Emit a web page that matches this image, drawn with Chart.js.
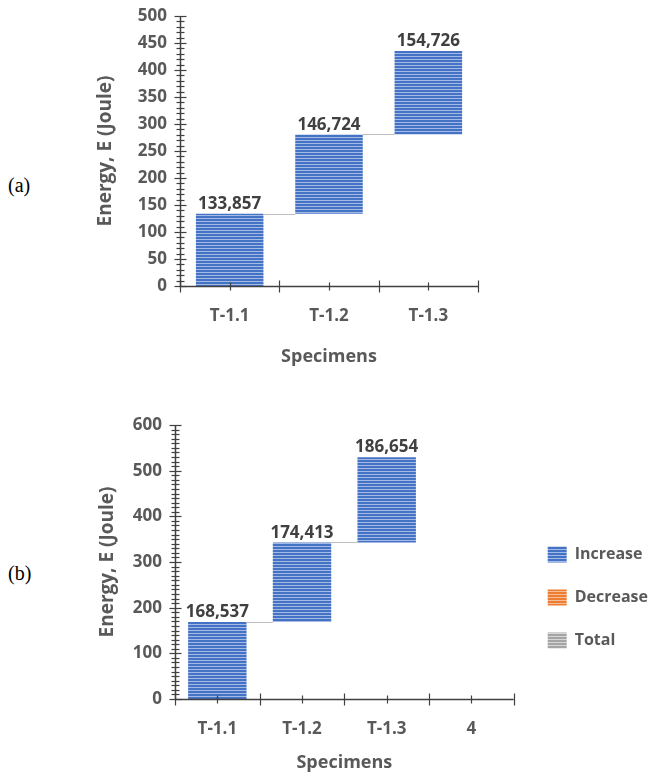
<!DOCTYPE html>
<html>
<head>
<meta charset="utf-8">
<script src="https://cdn.jsdelivr.net/npm/chart.js@4.4.1/dist/chart.umd.min.js"></script>
<style>
  body { margin: 0; background: #fff; width: 651px; height: 776px; position: relative; overflow: hidden; }
  canvas { position: absolute; }
  #chartA { left: 90px; top: 0px; }
  #chartB { left: 90px; top: 400px; }
  .tag { position: absolute; left: 8px; font-family: "Liberation Serif", serif; font-size: 20px; color: #000; }
</style>
</head>
<body>
<div class="tag" style="top:174px;">(a)</div>
<div class="tag" style="top:562px;">(b)</div>
<canvas id="chartA" width="420" height="380"></canvas>
<canvas id="chartB" width="561" height="376"></canvas>
<script>
// data
const specimensA = ['T-1.1', 'T-1.2', 'T-1.3'];
const energyA = [133.857, 146.724, 154.726];
const specimensB = ['T-1.1', 'T-1.2', 'T-1.3', '4'];
const energyB = [168.537, 174.413, 186.654];
const legendNames = ['Increase', 'Decrease', 'Total'];

const FONT = "'Open Sans', sans-serif";
const TEXT = '#595959';

// striped fill like the excel pattern
function stripes(base, light) {
    const c = document.createElement('canvas');
    c.width = 4; c.height = 3;
    const g = c.getContext('2d');
    g.fillStyle = base; g.fillRect(0, 0, 4, 3);
    g.fillStyle = light; g.fillRect(0, 2, 4, 1);
    return g.createPattern(c, 'repeat');
}
const blue = stripes('#4472C4', '#A4B9E4');
const orange = stripes('#ED7D31', '#F6BE98');
const grey = stripes('#A5A5A5', '#D6D6D6');

// turn increments into floating [start, end] pairs
function floating(vals) {
    let sum = 0;
    return vals.map(v => { const s = sum; sum += v; return [s, sum]; });
}

// axis lines, crossing ticks, connectors and value labels
const waterfall = {
    id: 'waterfall',
    afterLayout(chart, args, opts) {
        // nudge the legend a bit, like the excel one
        if (chart.legend && opts.legendShift) {
            chart.legend.left += opts.legendShift[0];
            chart.legend.right += opts.legendShift[0];
            chart.legend.top += opts.legendShift[1];
            chart.legend.bottom += opts.legendShift[1];
        }
    },
    afterDatasetsDraw(chart, args, opts) {
        const ctx = chart.ctx;
        const x = chart.scales.x, y = chart.scales.y;
        const area = chart.chartArea;
        const meta = chart.getDatasetMeta(0);
        const vals = chart.data.datasets[0].data;
        ctx.save();

        // connectors
        ctx.strokeStyle = '#BFBFBF';
        ctx.lineWidth = 1;
        for (let i = 0; i < meta.data.length - 1; i++) {
            const a = meta.data[i], b = meta.data[i + 1];
            const py = Math.round(y.getPixelForValue(vals[i][1])) + 0.5;
            ctx.beginPath();
            ctx.moveTo(a.x + a.width / 2, py);
            ctx.lineTo(b.x - b.width / 2, py);
            ctx.stroke();
        }

        // value labels
        ctx.fillStyle = '#404040';
        ctx.font = 'bold 17px ' + FONT;
        ctx.textAlign = 'center';
        ctx.textBaseline = 'bottom';
        meta.data.forEach((bar, i) => {
            const inc = vals[i][1] - vals[i][0];
            ctx.fillText(inc.toFixed(3).replace('.', ','), bar.x, bar.y - 1);
        });

        // axes
        ctx.strokeStyle = '#404040';
        ctx.lineWidth = 1.5;
        const ax = Math.round(area.left) + 0.5;
        const ay = Math.round(area.bottom) + 0.5;
        ctx.beginPath();
        ctx.moveTo(ax, y.getPixelForValue(y.max));
        ctx.lineTo(ax, ay);
        ctx.lineTo(area.right, ay);
        ctx.stroke();

        ctx.lineWidth = 1.2;
        for (let v = y.min; v <= y.max; v += opts.minor) {
            const py = Math.round(y.getPixelForValue(v)) + 0.5;
            const len = (v % opts.major === 0) ? 6 : 4;
            ctx.beginPath();
            ctx.moveTo(ax - len, py);
            ctx.lineTo(ax + len, py);
            ctx.stroke();
        }
        const n = chart.data.labels.length;
        for (let k = 0; k <= n; k++) {
            const px = Math.round(x.getPixelForValue(k - 0.5)) + 0.5;
            ctx.beginPath();
            ctx.moveTo(px, ay - 6);
            ctx.lineTo(px, ay + 6);
            ctx.stroke();
            if (k < n) {
                const cx = Math.round(x.getPixelForValue(k)) + 0.5;
                ctx.beginPath();
                ctx.moveTo(cx, ay - 4);
                ctx.lineTo(cx, ay + 4);
                ctx.stroke();
            }
        }
        ctx.restore();
    }
};

function makeChart(id, labels, values, cfg) {
    const datasets = [{
        label: legendNames[0],
        data: floating(values),
        backgroundColor: blue,
        borderWidth: 0,
        barPercentage: cfg.barPct,
        categoryPercentage: 1.0
    }];
    if (cfg.legend) {
        datasets.push({ label: legendNames[1], data: [], backgroundColor: orange, borderWidth: 0 });
        datasets.push({ label: legendNames[2], data: [], backgroundColor: grey, borderWidth: 0 });
    }
    return new Chart(document.getElementById(id), {
        type: 'bar',
        data: { labels: labels, datasets: datasets },
        plugins: [waterfall],
        options: {
            responsive: false,
            animation: false,
            devicePixelRatio: 1,
            grouped: false,
            layout: { padding: cfg.padding },
            plugins: {
                waterfall: { minor: 10, major: cfg.step, legendShift: cfg.legendShift },
                tooltip: { enabled: false },
                legend: {
                    display: !!cfg.legend,
                    position: 'right',
                    labels: {
                        boxWidth: 19,
                        boxHeight: 16,
                        padding: 27,
                        color: TEXT,
                        font: { family: FONT, size: 16, weight: 'bold' }
                    }
                }
            },
            scales: {
                x: {
                    offset: true,
                    grid: { display: false, drawTicks: false },
                    border: { display: false },
                    ticks: { color: TEXT, padding: 20, font: { family: FONT, size: 17, weight: 'bold' } },
                    title: {
                        display: true,
                        text: 'Specimens',
                        color: TEXT,
                        padding: { top: 0, bottom: cfg.xTitlePad },
                        font: { family: FONT, size: 18, weight: 'bold' }
                    },
                    afterFit: s => { s.height = cfg.xHeight; }
                },
                y: {
                    min: 0,
                    max: cfg.max,
                    grid: { display: false, drawTicks: false },
                    border: { display: false },
                    ticks: { stepSize: cfg.step, color: TEXT, padding: 13, font: { family: FONT, size: 17, weight: 'bold' } },
                    title: {
                        display: true,
                        text: 'Energy, E (Joule)',
                        color: TEXT,
                        padding: { top: cfg.yTitlePad, bottom: 0 },
                        font: { family: FONT, size: 19, weight: 'bold' }
                    },
                    afterFit: s => {
                        s.width = cfg.yWidth;
                        s.paddingTop = 0;
                        s.paddingBottom = 0;
                    }
                }
            }
        }
    });
}

makeChart('chartA', specimensA, energyA, {
    max: 500, step: 50, barPct: 0.68,
    padding: { top: 16, right: 32, left: 0, bottom: 0 },
    yWidth: 90, xHeight: 94, xTitlePad: 12, yTitlePad: 4
});

makeChart('chartB', specimensB, energyB, {
    max: 600, step: 100, barPct: 0.69, legend: true,
    padding: { top: 25, right: 0, left: 0, bottom: 0 },
    yWidth: 85, xHeight: 77, xTitlePad: 2, yTitlePad: 6,
    legendShift: [7, -3]
});
</script>
</body>
</html>
